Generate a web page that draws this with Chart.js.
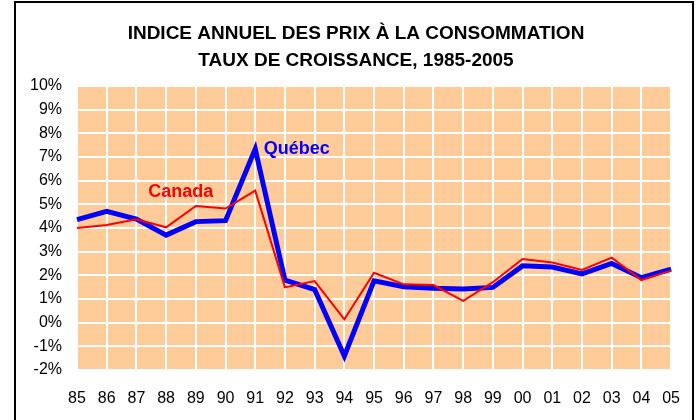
<!DOCTYPE html>
<html lang="fr">
<head>
<meta charset="UTF-8">
<script src="https://cdn.jsdelivr.net/npm/chart.js"></script>
<title>Indice annuel des prix à la consommation</title>
<style>
    html, body { margin: 0; padding: 0; background: #fff; }
    #wrap { width: 699px; height: 420px; position: relative; }
</style>
</head>
<body>
<div id="wrap"><canvas id="ipcChart"></canvas></div>

<script>
const years = ['85','86','87','88','89','90','91','92','93','94','95','96','97','98','99','00','01','02','03','04','05'];
const quebec = [4.35, 4.7, 4.38, 3.7, 4.27, 4.31, 7.34, 1.8, 1.4, -1.41, 1.77, 1.52, 1.45, 1.42, 1.49, 2.4, 2.35, 2.06, 2.5, 1.9, 2.26];
const canada = [4.0, 4.13, 4.37, 4.03, 4.93, 4.82, 5.58, 1.49, 1.76, 0.14, 2.11, 1.62, 1.59, 0.92, 1.71, 2.69, 2.54, 2.23, 2.75, 1.8, 2.2];
const titleLines = ['INDICE ANNUEL DES PRIX À LA CONSOMMATION', 'TAUX DE CROISSANCE, 1985-2005'];

const FONT = "'Liberation Sans', Arial, sans-serif";

// titre, cadre et étiquettes des séries
const decor = {
    id: 'decor',
    afterDraw(chart) {
        const ctx = chart.ctx;
        const x = chart.scales.x, y = chart.scales.y;
        ctx.save();
        ctx.fillStyle = '#000';
        ctx.font = 'bold 19px ' + FONT;
        ctx.textAlign = 'center';
        ctx.textBaseline = 'middle';
        ctx.fillText(titleLines[0], 356, 34);
        ctx.fillText(titleLines[1], 356, 61);

        ctx.font = 'bold 18px ' + FONT;
        ctx.fillStyle = '#FF0000';
        ctx.fillText('Canada', x.getPixelForValue(3.49), y.getPixelForValue(5.52));
        ctx.fillStyle = '#0000FF';
        ctx.fillText('Québec', x.getPixelForValue(7.4), y.getPixelForValue(7.34));

        ctx.strokeStyle = '#000';
        ctx.lineWidth = 2;
        ctx.beginPath();
        ctx.moveTo(15, 421);
        ctx.lineTo(15, 2);
        ctx.lineTo(693, 2);
        ctx.lineTo(693, 421);
        ctx.stroke();
        ctx.restore();
    },
    beforeDraw(chart) {
        const ctx = chart.ctx, a = chart.chartArea;
        ctx.save();
        ctx.fillStyle = '#fff';
        ctx.fillRect(0, 0, chart.width, chart.height);
        ctx.fillStyle = '#FFCC99';
        ctx.fillRect(a.left, a.top, a.right - a.left, a.bottom - a.top);
        ctx.restore();
    }
};

new Chart(document.getElementById('ipcChart'), {
    type: 'line',
    data: {
        labels: years,
        datasets: [
            { label: 'Canada', data: canada, borderColor: '#FF0000', borderWidth: 2, pointRadius: 0, tension: 0, fill: false },
            { label: 'Québec', data: quebec, borderColor: '#0000FF', borderWidth: 5, pointRadius: 0, tension: 0, fill: false, borderJoinStyle: 'miter' }
        ]
    },
    options: {
        responsive: true,
        maintainAspectRatio: false,
        animation: false,
        layout: { padding: { left: 0, right: 26, top: 86, bottom: 12 } },
        plugins: { legend: { display: false }, title: { display: false }, tooltip: { enabled: false } },
        scales: {
            x: {
                offset: false,
                afterFit(scale) { scale.height = 38; },
                grid: { color: '#fff', lineWidth: 2, drawTicks: false },
                border: { display: false },
                ticks: { color: '#000', font: { family: FONT, size: 16 }, padding: 19, maxRotation: 0, autoSkip: false }
            },
            y: {
                min: -2, max: 10,
                afterFit(scale) { scale.width = 77; },
                grid: { color: '#fff', lineWidth: 2, drawTicks: false },
                border: { display: false },
                ticks: { stepSize: 1, autoSkip: false, color: '#000', font: { family: FONT, size: 16 }, padding: 15,
                    callback: v => v + '%' }
            }
        }
    },
    plugins: [decor]
});
</script>
</body>
</html>
